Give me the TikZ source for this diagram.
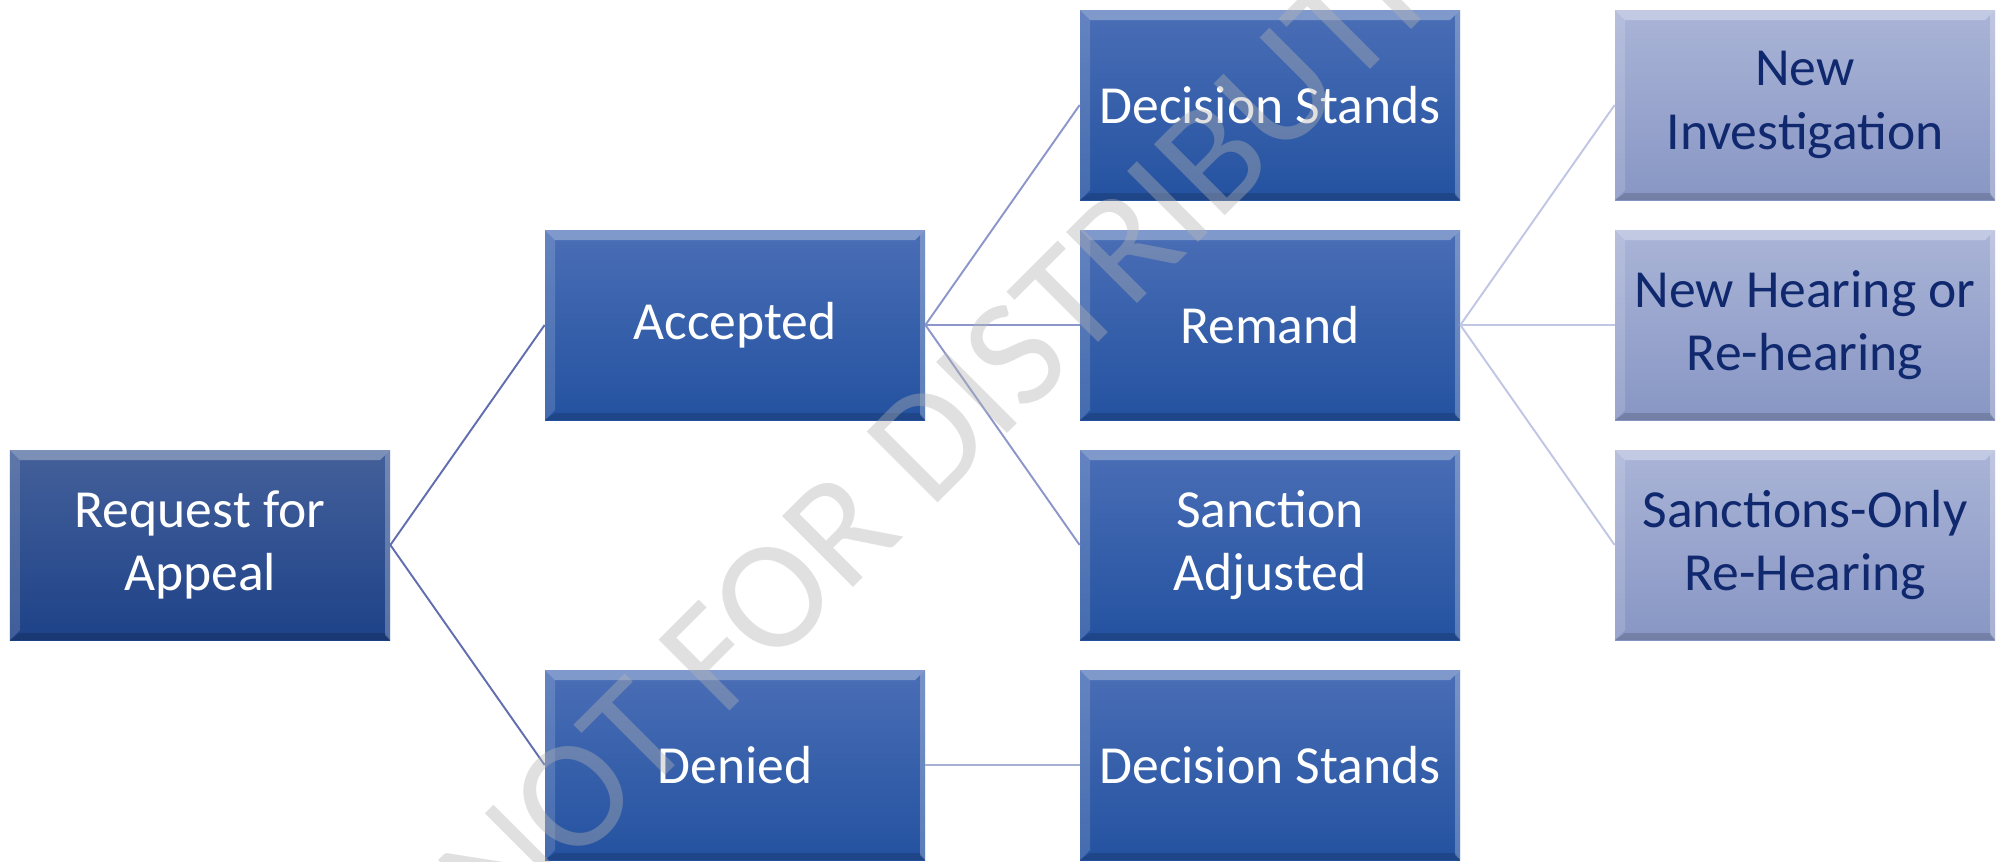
\documentclass[tikz,border=0pt]{standalone}
\usepackage{fontspec}
\setmainfont{Carlito}
\usetikzlibrary{shapes}
\definecolor{reqtop}{RGB}{68,96,154}
\definecolor{reqbot}{RGB}{30,66,136}
\definecolor{boxtop}{RGB}{74,110,182}
\definecolor{boxbot}{RGB}{36,82,160}
\definecolor{paletop}{RGB}{170,180,215}
\definecolor{palebot}{RGB}{136,150,196}
\definecolor{paletext}{RGB}{16,40,110}
\definecolor{linkone}{RGB}{98,110,174}
\definecolor{linktwo}{RGB}{140,150,202}
\definecolor{linkthree}{RGB}{166,176,212}
\definecolor{linkfour}{RGB}{192,198,228}

\begin{document}
\begin{tikzpicture}[x=0.2mm, y=-0.2mm,
bevel/.style={path picture={
\fill[white, opacity=0.3] (path picture bounding box.north west) -- (path picture bounding box.north east)
 -- ([shift={(-2mm,-2mm)}]path picture bounding box.north east) -- ([shift={(2mm,-2mm)}]path picture bounding box.north west) -- cycle;
\fill[white, opacity=0.15] (path picture bounding box.north west) -- ([shift={(2mm,-2mm)}]path picture bounding box.north west)
 -- ([shift={(2mm,2mm)}]path picture bounding box.south west) -- (path picture bounding box.south west) -- cycle;
\fill[white, opacity=0.25] (path picture bounding box.north east) -- ([shift={(-1mm,-1mm)}]path picture bounding box.north east)
 -- ([shift={(-1mm,1mm)}]path picture bounding box.south east) -- (path picture bounding box.south east) -- cycle;
\fill[black, opacity=0.15] (path picture bounding box.south west) -- (path picture bounding box.south east)
 -- ([shift={(-1mm,1.4mm)}]path picture bounding box.south east) -- ([shift={(2mm,1.4mm)}]path picture bounding box.south west) -- cycle;
}},
box/.style={rectangle, minimum width=7.6cm, minimum height=3.8cm, inner sep=0pt, align=center,
 text=white, font=\fontsize{30.5}{36}\selectfont, bevel},
darkbox/.style={box, top color=reqtop, bottom color=reqbot},
bluebox/.style={box, top color=boxtop, bottom color=boxbot},
palebox/.style={box, top color=paletop, bottom color=palebot, text=paletext},
link/.style={line width=1.1pt}]
\useasboundingbox (0,0) rectangle (2001,861);
\clip (0,0) rectangle (2001,861);

\node[darkbox] (request) at (200,545) {Request for\\Appeal};
\node[bluebox] (accepted) at (735,325) {Accepted};
\node[bluebox] (denied) at (735,765) {Denied};
\node[bluebox] (stands) at (1270,105) {Decision Stands};
\node[bluebox] (remand) at (1270,325) {Remand};
\node[bluebox] (adjusted) at (1270,545) {Sanction\\Adjusted};
\node[bluebox] (standsdenied) at (1270,765) {Decision Stands};
\node[palebox] (investigation) at (1805,105) {New\\Investigation};
\node[palebox] (rehearing) at (1805,325) {New Hearing or\\Re-hearing};
\node[palebox] (sanctionsonly) at (1805,545) {Sanctions-Only\\Re-Hearing};

\foreach \child in {accepted, denied}
  \draw[link, draw=linkone] (request.east) -- (\child.west);
\foreach \child in {stands, remand, adjusted}
  \draw[link, draw=linktwo] (accepted.east) -- (\child.west);
\draw[link, draw=linkthree] (denied.east) -- (standsdenied.west);
\foreach \child in {investigation, rehearing, sanctionsonly}
  \draw[link, draw=linkfour] (remand.east) -- (\child.west);

\node[rotate=45, text=black!30, opacity=0.4, font=\fontsize{89}{100}\selectfont] (watermark)
  at (1003,367) {NOT FOR DISTRIBUTION};
\end{tikzpicture}
\end{document}
